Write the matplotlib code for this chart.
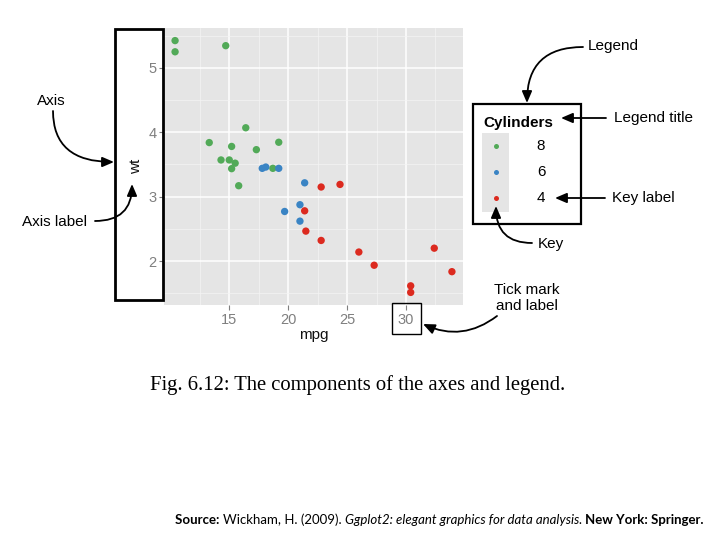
import matplotlib
matplotlib.use("Agg")
import matplotlib.pyplot as plt
from matplotlib.patches import Rectangle
from matplotlib.offsetbox import TextArea, HPacker, AnnotationBbox

# ---- data (mtcars: mpg vs wt, coloured by cylinders) ----
mpg = [21.0, 21.0, 22.8, 21.4, 18.7, 18.1, 14.3, 24.4, 22.8, 19.2, 17.8, 16.4,
       17.3, 15.2, 10.4, 10.4, 14.7, 32.4, 30.4, 33.9, 21.5, 15.5, 15.2, 13.3,
       19.2, 27.3, 26.0, 30.4, 15.8, 19.7, 15.0, 21.4]
wt = [2.620, 2.875, 2.320, 3.215, 3.440, 3.460, 3.570, 3.190, 3.150, 3.440,
      3.440, 4.070, 3.730, 3.780, 5.250, 5.424, 5.345, 2.200, 1.615, 1.835,
      2.465, 3.520, 3.435, 3.840, 3.845, 1.935, 2.140, 1.513, 3.170, 2.770,
      3.570, 2.780]
cyl = [6, 6, 4, 6, 8, 6, 8, 4, 4, 6, 6, 8, 8, 8, 8, 8, 8, 4, 4, 4, 4, 8, 8, 8,
       8, 4, 4, 4, 8, 6, 8, 4]
legend_levels = [8, 6, 4]
level_colors = {4: "#DC2A1F", 6: "#3A84C4", 8: "#52AA58"}
x_ticks = [15, 20, 25, 30]
y_ticks = [2, 3, 4, 5]

W, H = 720, 540
fig = plt.figure(figsize=(W / 100, H / 100), dpi=100)
fig.patch.set_facecolor("white")

# ---- main panel ----
pl, pr, pt, pb = 164, 463, 28, 305
ax = fig.add_axes([pl / W, 1 - pb / H, (pr - pl) / W, (pb - pt) / H])
ax.set_facecolor("#E5E5E5")
for s in ax.spines.values():
    s.set_visible(False)

def expand(v, f=0.05):
    lo, hi = min(v), max(v)
    d = (hi - lo) * f
    return lo - d, hi + d

ax.set_xlim(*expand(mpg, 0.04))
ax.set_ylim(*expand(wt, 0.05))
ax.set_xticks(x_ticks)
ax.set_yticks(y_ticks)
ax.set_xticks([t + 2.5 for t in [10] + x_ticks], minor=True)
ax.set_yticks([t - 0.5 for t in y_ticks] + [y_ticks[-1] + 0.5], minor=True)
ax.grid(True, which="major", color="white", linewidth=1.1)
ax.grid(True, which="minor", color="#F4F4F4", linewidth=0.5)
ax.set_axisbelow(True)
ax.tick_params(which="major", direction="out", length=3.5, width=0.8,
               color="#7F7F7F", labelcolor="#7F7F7F", labelsize=10.5, pad=2)
ax.tick_params(which="minor", length=0)
for lab in ax.get_xticklabels() + ax.get_yticklabels():
    lab.set_fontfamily("Liberation Sans")

ax.scatter(mpg, wt, c=[level_colors[c] for c in cyl], s=28, linewidths=0,
           zorder=3)
ax.set_xlabel("mpg", fontsize=11, fontfamily="Liberation Sans", color="#111111")
ax.set_ylabel("wt", fontsize=11, fontfamily="Liberation Sans", color="#111111")
ax.xaxis.set_label_coords(0.5, (pb - 328) / (pb - pt))
ax.yaxis.set_label_coords((143 - pl) / (pr - pl), 0.5)

# ---- overlay in pixel coordinates (top-left origin) ----
ov = fig.add_axes([0, 0, 1, 1], zorder=10)
ov.set_xlim(0, W)
ov.set_ylim(H, 0)
ov.axis("off")
ov.patch.set_alpha(0)

# boxes highlighting axis and tick
ov.add_patch(Rectangle((115, 29), 48, 271, fill=False, edgecolor="black",
                       linewidth=2.0))
ov.add_patch(Rectangle((392, 303), 29, 31, fill=False, edgecolor="black",
                       linewidth=1.0))

# legend drawn as a boxed key
lx, ly = 473, 104
ov.add_patch(Rectangle((lx, ly), 108, 120, fill=False, edgecolor="black",
                       linewidth=1.6))
ov.add_patch(Rectangle((lx + 9, ly + 29), 27, 79, facecolor="#E5E5E5",
                       edgecolor="none"))
ov.text(lx + 10, ly + 19, "Cylinders", fontsize=11, fontweight="bold",
        fontfamily="Liberation Sans", ha="left", va="center")
for i, lev in enumerate(legend_levels):
    yy = ly + 42 + 26 * i
    ov.plot([lx + 23], [yy], marker="o", markersize=3.6, color=level_colors[lev],
            markeredgewidth=0)
    ov.text(lx + 68, yy, str(lev), fontsize=11, fontfamily="Liberation Sans",
            ha="center", va="center")

# annotations
fs = 11
aprops = dict(arrowstyle="-|>,head_length=0.7,head_width=0.3", color="black",
              linewidth=1.3, shrinkA=0, shrinkB=0)

def note(txt, tx, ty, ha="left"):
    ov.text(tx, ty, txt, fontsize=fs, fontfamily="Liberation Sans", ha=ha,
            va="center", linespacing=1.2)

def arrow(start, end, cs):
    ov.annotate("", xy=end, xytext=start,
                arrowprops=dict(aprops, connectionstyle=cs))

note("Legend", 588, 46)
arrow((583, 47), (527, 103), "angle3,angleA=0,angleB=90")
note("Legend title", 614, 118)
arrow((606, 118), (561, 118), "arc3,rad=0")
note("Key label", 612, 198)
arrow((605, 198), (555, 198), "arc3,rad=0")
note("Key", 538, 244)
arrow((532, 243), (496, 206), "angle3,angleA=0,angleB=90")
note("Tick mark\nand label", 527, 298, ha="center")
arrow((497, 316), (423, 324), "arc3,rad=-0.3")
note("Axis", 37, 101)
arrow((53, 111), (114, 162), "angle3,angleA=90,angleB=0")
note("Axis label", 22, 222)
arrow((95, 221), (132, 184), "angle3,angleA=0,angleB=90")

# caption
ov.text(358, 385, "Fig. 6.12: The components of the axes and legend.",
        fontsize=14.9, fontfamily="Liberation Serif", ha="center", va="center")

# source line with mixed styles
sfam = "Lato"
parts = [
    ("Source: ", dict(fontweight="bold")),
    ("Wickham, H. (2009). ", dict()),
    ("Ggplot2: elegant graphics for data analysis. ", dict(fontstyle="italic")),
    ("New York: Springer.", dict(fontweight="bold")),
]
boxes = [TextArea(t, textprops=dict(fontsize=9.5, fontfamily=sfam, color="black", **p))
         for t, p in parts]
pack = HPacker(children=boxes, pad=0, sep=0, align="baseline")
ab = AnnotationBbox(pack, (439.5, 520), xycoords="data", frameon=False,
                    box_alignment=(0.5, 0.5), pad=0)
ov.add_artist(ab)

fig.savefig("out.png", dpi=100)
